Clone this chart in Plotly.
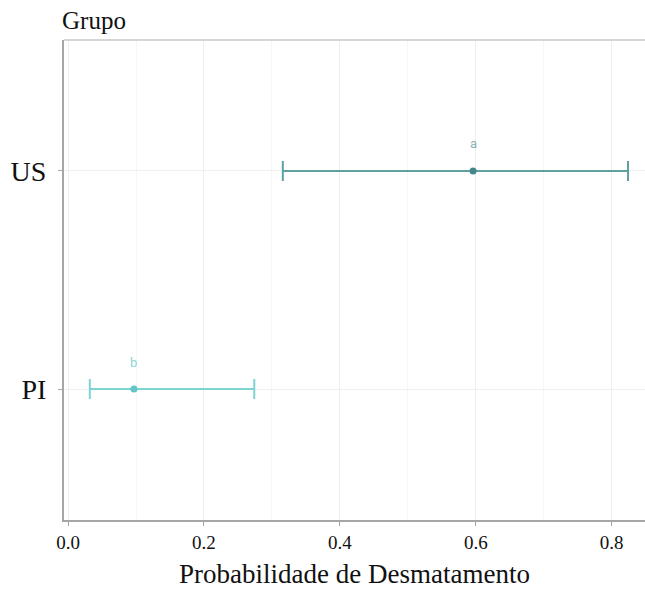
import plotly.graph_objects as go

groups = ["US", "PI"]
prob = [0.596, 0.097]
lower = [0.316, 0.032]
upper = [0.824, 0.274]
letters = ["a", "b"]
line_colors = ["#60a0a0", "#7dd3d3"]
point_colors = ["#428888", "#60c6c6"]
text_colors = ["#86b3b3", "#8ed6d6"]

SERIF = "Liberation Serif, Times New Roman, serif"

fig = go.Figure()
for g, p, lo, hi, lc, pc in zip(groups, prob, lower, upper, line_colors, point_colors):
    fig.add_trace(go.Scatter(
        x=[p], y=[g], mode="markers",
        marker=dict(color=pc, size=7),
        error_x=dict(type="data", symmetric=False, array=[hi - p], arrayminus=[p - lo],
                     color=lc, thickness=2, width=10),
        showlegend=False, hoverinfo="x+y"))

for g, p, t, tc in zip(groups, prob, letters, text_colors):
    fig.add_annotation(x=p, y=g, text=t, showarrow=False, yshift=27,
                       font=dict(family="Roboto, Arial, sans-serif", size=13, color=tc))

fig.add_annotation(xref="paper", yref="paper", x=0, y=1, xanchor="left", yanchor="bottom",
                   yshift=4, xshift=-4, text="Grupo", showarrow=False,
                   font=dict(family=SERIF, size=25, color="#111"))

fig.add_shape(type="line", xref="paper", yref="paper", x0=0, x1=1, y0=1, y1=1,
              line=dict(color="#d6d6d6", width=2))

fig.update_layout(
    width=645, height=590,
    margin=dict(l=64, r=0, t=40, b=70),
    plot_bgcolor="white", paper_bgcolor="white",
    font=dict(family=SERIF, color="#111"),
)
fig.update_xaxes(
    range=[-0.006, 0.849], tickvals=[0, 0.2, 0.4, 0.6, 0.8], ticktext=["0.0", "0.2", "0.4", "0.6", "0.8"],
    showgrid=True, gridcolor="#efefef", gridwidth=1,
    minor=dict(tickvals=[0.1, 0.3, 0.5, 0.7], showgrid=True, gridcolor="#f6f6f6", gridwidth=1),
    showline=True, linecolor="#a6a6a6", linewidth=2,
    ticks="outside", ticklen=4, tickcolor="#a6a6a6",
    tickfont=dict(size=19, color="#111"), zeroline=False,
    title=dict(text="Probabilidade de Desmatamento", font=dict(size=27, color="#111"), standoff=12),
)
fig.update_yaxes(
    type="category", categoryorder="array", categoryarray=["PI", "US"], range=[-0.6, 1.6],
    showgrid=True, gridcolor="#f0f0f0", gridwidth=1,
    showline=True, linecolor="#a6a6a6", linewidth=2,
    ticks="outside", ticklen=4, tickcolor="#a6a6a6",
    tickfont=dict(size=28, color="#111"), zeroline=False, ticklabelstandoff=6,
)
fig.write_html("out.html", config={"displayModeBar": False},
               post_script="document.body.style.margin='0';document.body.style.overflow='hidden';")
